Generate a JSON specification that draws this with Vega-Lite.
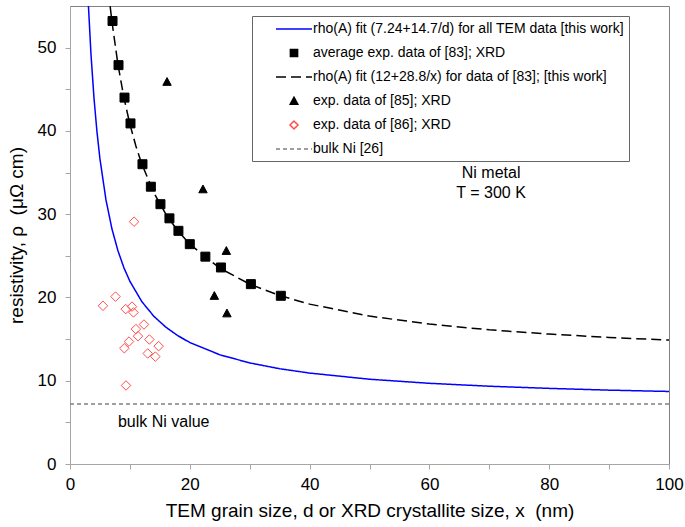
{
  "$schema": "https://vega.github.io/schema/vega-lite/v6.json",
  "width": 599,
  "height": 458,
  "autosize": {"type": "none"},
  "padding": {"left": 70, "top": 6, "right": 16, "bottom": 63},
  "config": {
    "font": "Liberation Sans",
    "view": {"stroke": "#808080", "strokeWidth": 1},
    "axis": {
      "grid": false,
      "domainColor": "#a6a6a6",
      "tickColor": "#a6a6a6",
      "tickSize": 5,
      "labelFont": "Liberation Sans",
      "labelFontSize": 17,
      "labelColor": "black",
      "labelFlush": false,
      "titleFont": "Liberation Sans",
      "titleFontSize": 19,
      "titleFontWeight": "normal",
      "titleColor": "black"
    },
    "legend": {
      "labelFont": "Liberation Sans",
      "labelFontSize": 14,
      "labelColor": "black",
      "labelLimit": 600,
      "symbolSize": 196,
      "symbolStrokeWidth": 1.5,
      "strokeColor": "#666666",
      "fillColor": "white",
      "padding": 5,
      "rowPadding": 9,
      "labelOffset": 11,
      "symbolOffset": 29
    }
  },
  "datasets": {
    "fitTEM": [
      {"series": "rho(A) fit (7.24+14.7/d) for all TEM data [this work]", "x": 3.08, "y": 55.0},
      {"series": "rho(A) fit (7.24+14.7/d) for all TEM data [this work]", "x": 3.5, "y": 49.24},
      {"series": "rho(A) fit (7.24+14.7/d) for all TEM data [this work]", "x": 4, "y": 43.99},
      {"series": "rho(A) fit (7.24+14.7/d) for all TEM data [this work]", "x": 4.5, "y": 39.91},
      {"series": "rho(A) fit (7.24+14.7/d) for all TEM data [this work]", "x": 5, "y": 36.64},
      {"series": "rho(A) fit (7.24+14.7/d) for all TEM data [this work]", "x": 6, "y": 31.74},
      {"series": "rho(A) fit (7.24+14.7/d) for all TEM data [this work]", "x": 7, "y": 28.24},
      {"series": "rho(A) fit (7.24+14.7/d) for all TEM data [this work]", "x": 8, "y": 25.62},
      {"series": "rho(A) fit (7.24+14.7/d) for all TEM data [this work]", "x": 9, "y": 23.57},
      {"series": "rho(A) fit (7.24+14.7/d) for all TEM data [this work]", "x": 10, "y": 21.94},
      {"series": "rho(A) fit (7.24+14.7/d) for all TEM data [this work]", "x": 12, "y": 19.49},
      {"series": "rho(A) fit (7.24+14.7/d) for all TEM data [this work]", "x": 14, "y": 17.74},
      {"series": "rho(A) fit (7.24+14.7/d) for all TEM data [this work]", "x": 16, "y": 16.43},
      {"series": "rho(A) fit (7.24+14.7/d) for all TEM data [this work]", "x": 18, "y": 15.41},
      {"series": "rho(A) fit (7.24+14.7/d) for all TEM data [this work]", "x": 20, "y": 14.59},
      {"series": "rho(A) fit (7.24+14.7/d) for all TEM data [this work]", "x": 25, "y": 13.12},
      {"series": "rho(A) fit (7.24+14.7/d) for all TEM data [this work]", "x": 30, "y": 12.14},
      {"series": "rho(A) fit (7.24+14.7/d) for all TEM data [this work]", "x": 35, "y": 11.44},
      {"series": "rho(A) fit (7.24+14.7/d) for all TEM data [this work]", "x": 40, "y": 10.92},
      {"series": "rho(A) fit (7.24+14.7/d) for all TEM data [this work]", "x": 50, "y": 10.18},
      {"series": "rho(A) fit (7.24+14.7/d) for all TEM data [this work]", "x": 60, "y": 9.69},
      {"series": "rho(A) fit (7.24+14.7/d) for all TEM data [this work]", "x": 70, "y": 9.34},
      {"series": "rho(A) fit (7.24+14.7/d) for all TEM data [this work]", "x": 80, "y": 9.08},
      {"series": "rho(A) fit (7.24+14.7/d) for all TEM data [this work]", "x": 90, "y": 8.87},
      {"series": "rho(A) fit (7.24+14.7/d) for all TEM data [this work]", "x": 100, "y": 8.71}
    ],
    "avg83": [
      {"series": "average exp. data of [83]; XRD", "x": 7.1, "y": 53.2},
      {"series": "average exp. data of [83]; XRD", "x": 8.1, "y": 47.9},
      {"series": "average exp. data of [83]; XRD", "x": 9.1, "y": 44.0},
      {"series": "average exp. data of [83]; XRD", "x": 10.1, "y": 40.9},
      {"series": "average exp. data of [83]; XRD", "x": 12.1, "y": 36.0},
      {"series": "average exp. data of [83]; XRD", "x": 13.5, "y": 33.3},
      {"series": "average exp. data of [83]; XRD", "x": 15.1, "y": 31.2},
      {"series": "average exp. data of [83]; XRD", "x": 16.6, "y": 29.5},
      {"series": "average exp. data of [83]; XRD", "x": 18.1, "y": 28.0},
      {"series": "average exp. data of [83]; XRD", "x": 20.0, "y": 26.4},
      {"series": "average exp. data of [83]; XRD", "x": 22.6, "y": 24.9},
      {"series": "average exp. data of [83]; XRD", "x": 25.2, "y": 23.6},
      {"series": "average exp. data of [83]; XRD", "x": 30.2, "y": 21.6},
      {"series": "average exp. data of [83]; XRD", "x": 35.2, "y": 20.2}
    ],
    "fit83": [
      {"series": "rho(A) fit (12+28.8/x) for data of [83]; [this work]", "x": 6.7, "y": 54.99},
      {"series": "rho(A) fit (12+28.8/x) for data of [83]; [this work]", "x": 7, "y": 53.14},
      {"series": "rho(A) fit (12+28.8/x) for data of [83]; [this work]", "x": 8, "y": 48.0},
      {"series": "rho(A) fit (12+28.8/x) for data of [83]; [this work]", "x": 9, "y": 44.0},
      {"series": "rho(A) fit (12+28.8/x) for data of [83]; [this work]", "x": 10, "y": 40.8},
      {"series": "rho(A) fit (12+28.8/x) for data of [83]; [this work]", "x": 11, "y": 38.18},
      {"series": "rho(A) fit (12+28.8/x) for data of [83]; [this work]", "x": 12, "y": 36.0},
      {"series": "rho(A) fit (12+28.8/x) for data of [83]; [this work]", "x": 14, "y": 32.57},
      {"series": "rho(A) fit (12+28.8/x) for data of [83]; [this work]", "x": 16, "y": 30.0},
      {"series": "rho(A) fit (12+28.8/x) for data of [83]; [this work]", "x": 18, "y": 28.0},
      {"series": "rho(A) fit (12+28.8/x) for data of [83]; [this work]", "x": 20, "y": 26.4},
      {"series": "rho(A) fit (12+28.8/x) for data of [83]; [this work]", "x": 25, "y": 23.52},
      {"series": "rho(A) fit (12+28.8/x) for data of [83]; [this work]", "x": 30, "y": 21.6},
      {"series": "rho(A) fit (12+28.8/x) for data of [83]; [this work]", "x": 35, "y": 20.23},
      {"series": "rho(A) fit (12+28.8/x) for data of [83]; [this work]", "x": 40, "y": 19.2},
      {"series": "rho(A) fit (12+28.8/x) for data of [83]; [this work]", "x": 50, "y": 17.76},
      {"series": "rho(A) fit (12+28.8/x) for data of [83]; [this work]", "x": 60, "y": 16.8},
      {"series": "rho(A) fit (12+28.8/x) for data of [83]; [this work]", "x": 70, "y": 16.11},
      {"series": "rho(A) fit (12+28.8/x) for data of [83]; [this work]", "x": 80, "y": 15.6},
      {"series": "rho(A) fit (12+28.8/x) for data of [83]; [this work]", "x": 90, "y": 15.2},
      {"series": "rho(A) fit (12+28.8/x) for data of [83]; [this work]", "x": 100, "y": 14.88}
    ],
    "exp85": [
      {"series": "exp. data of [85]; XRD", "x": 16.2, "y": 45.9},
      {"series": "exp. data of [85]; XRD", "x": 22.2, "y": 33.0},
      {"series": "exp. data of [85]; XRD", "x": 26.1, "y": 25.6},
      {"series": "exp. data of [85]; XRD", "x": 24.1, "y": 20.2},
      {"series": "exp. data of [85]; XRD", "x": 26.2, "y": 18.1}
    ],
    "exp86": [
      {"series": "exp. data of [86]; XRD", "x": 5.5, "y": 19.0},
      {"series": "exp. data of [86]; XRD", "x": 7.6, "y": 20.1},
      {"series": "exp. data of [86]; XRD", "x": 9.3, "y": 18.6},
      {"series": "exp. data of [86]; XRD", "x": 10.35, "y": 18.9},
      {"series": "exp. data of [86]; XRD", "x": 10.6, "y": 18.2},
      {"series": "exp. data of [86]; XRD", "x": 12.35, "y": 16.75},
      {"series": "exp. data of [86]; XRD", "x": 11.0, "y": 16.2},
      {"series": "exp. data of [86]; XRD", "x": 11.35, "y": 15.35},
      {"series": "exp. data of [86]; XRD", "x": 9.85, "y": 14.7},
      {"series": "exp. data of [86]; XRD", "x": 9.07, "y": 13.9},
      {"series": "exp. data of [86]; XRD", "x": 13.25, "y": 14.95},
      {"series": "exp. data of [86]; XRD", "x": 14.8, "y": 14.15},
      {"series": "exp. data of [86]; XRD", "x": 12.97, "y": 13.27},
      {"series": "exp. data of [86]; XRD", "x": 14.25, "y": 12.9},
      {"series": "exp. data of [86]; XRD", "x": 9.35, "y": 9.43},
      {"series": "exp. data of [86]; XRD", "x": 10.7, "y": 29.1}
    ],
    "bulk": [
      {"series": "bulk Ni [26]", "y": 7.2}
    ],
    "notes": [
      {"x": 70.3, "y": 34.3, "text": "Ni metal"},
      {"x": 70.3, "y": 32.0, "text": "T = 300 K"}
    ],
    "bulkNote": [
      {"x": 8.0, "y": 4.4, "text": "bulk Ni value"}
    ]
  },
  "layer": [
    {
      "data": {"name": "fitTEM"},
      "mark": {"type": "line", "strokeWidth": 1.5, "clip": true},
      "encoding": {
        "x": {
          "field": "x", "type": "quantitative",
          "scale": {"domain": [0, 100], "nice": false, "zero": false},
          "axis": {
            "values": [0, 10, 20, 30, 40, 50, 60, 70, 80, 90, 100],
            "labelExpr": "datum.value % 20 === 0 ? datum.label : ''",
            "labelPadding": 7,
            "titleY": 37,
            "titleBaseline": "top"
          },
          "title": "TEM grain size, d or XRD crystallite size, x\u00a0 (nm)"
        },
        "y": {
          "field": "y", "type": "quantitative",
          "scale": {"domain": [0, 55], "nice": false},
          "axis": {
            "values": [0, 5, 10, 15, 20, 25, 30, 35, 40, 45, 50],
            "labelExpr": "datum.value % 10 === 0 ? datum.label : ''",
            "labelPadding": 9,
            "titleAngle": 270,
            "titleBaseline": "alphabetic",
            "titleAlign": "center",
            "titleX": -48,
            "titleY": 229
          },
          "title": "resistivity, ρ\u00a0 (μΩ cm)"
        },
        "stroke": {
          "field": "series", "type": "nominal",
          "scale": {
            "domain": ["rho(A) fit (7.24+14.7/d) for all TEM data [this work]", "average exp. data of [83]; XRD", "rho(A) fit (12+28.8/x) for data of [83]; [this work]", "exp. data of [85]; XRD", "exp. data of [86]; XRD", "bulk Ni [26]"],
            "range": ["#0000ff", "black", "black", "black", "#ff4d4d", "#808080"]
          },
          "legend": {"title": null, "orient": "none", "legendX": 182, "legendY": 10}
        },
        "strokeDash": {
          "field": "series", "type": "nominal",
          "scale": {
            "domain": ["rho(A) fit (7.24+14.7/d) for all TEM data [this work]", "average exp. data of [83]; XRD", "rho(A) fit (12+28.8/x) for data of [83]; [this work]", "exp. data of [85]; XRD", "exp. data of [86]; XRD", "bulk Ni [26]"],
            "range": [[1, 0], [1, 0], [10, 5], [1, 0], [1, 0], [4, 3]]
          },
          "legend": {"title": null, "orient": "none", "legendX": 182, "legendY": 10}
        }
      }
    },
    {
      "data": {"name": "fit83"},
      "mark": {"type": "line", "strokeWidth": 1.5, "clip": true},
      "encoding": {
        "x": {"field": "x", "type": "quantitative"},
        "y": {"field": "y", "type": "quantitative"},
        "stroke": {"field": "series", "type": "nominal"},
        "strokeDash": {"field": "series", "type": "nominal"}
      }
    },
    {
      "data": {"name": "bulk"},
      "mark": {"type": "rule", "strokeWidth": 1.5},
      "encoding": {
        "y": {"field": "y", "type": "quantitative"},
        "stroke": {"field": "series", "type": "nominal"},
        "strokeDash": {"field": "series", "type": "nominal"}
      }
    },
    {
      "data": {"name": "avg83"},
      "mark": {"type": "point", "size": 306, "strokeWidth": 1, "opacity": 1},
      "encoding": {
        "x": {"field": "x", "type": "quantitative"},
        "y": {"field": "y", "type": "quantitative"},
        "stroke": {"field": "series", "type": "nominal"},
        "fill": {
          "field": "series", "type": "nominal",
          "scale": {
            "domain": ["rho(A) fit (7.24+14.7/d) for all TEM data [this work]", "average exp. data of [83]; XRD", "rho(A) fit (12+28.8/x) for data of [83]; [this work]", "exp. data of [85]; XRD", "exp. data of [86]; XRD", "bulk Ni [26]"],
            "range": ["transparent", "black", "transparent", "black", "transparent", "transparent"]
          },
          "legend": {"title": null, "orient": "none", "legendX": 182, "legendY": 10}
        },
        "shape": {
          "field": "series", "type": "nominal",
          "scale": {
            "domain": ["rho(A) fit (7.24+14.7/d) for all TEM data [this work]", "average exp. data of [83]; XRD", "rho(A) fit (12+28.8/x) for data of [83]; [this work]", "exp. data of [85]; XRD", "exp. data of [86]; XRD", "bulk Ni [26]"],
            "range": ["M-2.57,0H2.57", "M-0.514,-0.514H0.514V0.514H-0.514Z", "M-2.57,0H2.57", "M0,-0.54L0.54,0.46H-0.54Z", "M0,-0.57L0.57,0L0,0.57L-0.57,0Z", "M-2.57,0H2.57"]
          },
          "legend": {"title": null, "orient": "none", "legendX": 182, "legendY": 10}
        }
      }
    },
    {
      "data": {"name": "exp85"},
      "mark": {"type": "point", "size": 243, "strokeWidth": 1, "opacity": 1},
      "encoding": {
        "x": {"field": "x", "type": "quantitative"},
        "y": {"field": "y", "type": "quantitative"},
        "stroke": {"field": "series", "type": "nominal"},
        "fill": {"field": "series", "type": "nominal"},
        "shape": {"field": "series", "type": "nominal"}
      }
    },
    {
      "data": {"name": "exp86"},
      "mark": {"type": "point", "size": 278, "strokeWidth": 1, "opacity": 1},
      "encoding": {
        "x": {"field": "x", "type": "quantitative"},
        "y": {"field": "y", "type": "quantitative"},
        "stroke": {"field": "series", "type": "nominal"},
        "fill": {"field": "series", "type": "nominal"},
        "shape": {"field": "series", "type": "nominal"}
      }
    },
    {
      "data": {"name": "notes"},
      "mark": {"type": "text", "align": "center", "baseline": "alphabetic", "fontSize": 16, "font": "Liberation Sans", "color": "black"},
      "encoding": {
        "x": {"field": "x", "type": "quantitative"},
        "y": {"field": "y", "type": "quantitative"},
        "text": {"field": "text"}
      }
    },
    {
      "data": {"name": "bulkNote"},
      "mark": {"type": "text", "align": "left", "baseline": "alphabetic", "fontSize": 16, "font": "Liberation Sans", "color": "black"},
      "encoding": {
        "x": {"field": "x", "type": "quantitative"},
        "y": {"field": "y", "type": "quantitative"},
        "text": {"field": "text"}
      }
    }
  ]
}
